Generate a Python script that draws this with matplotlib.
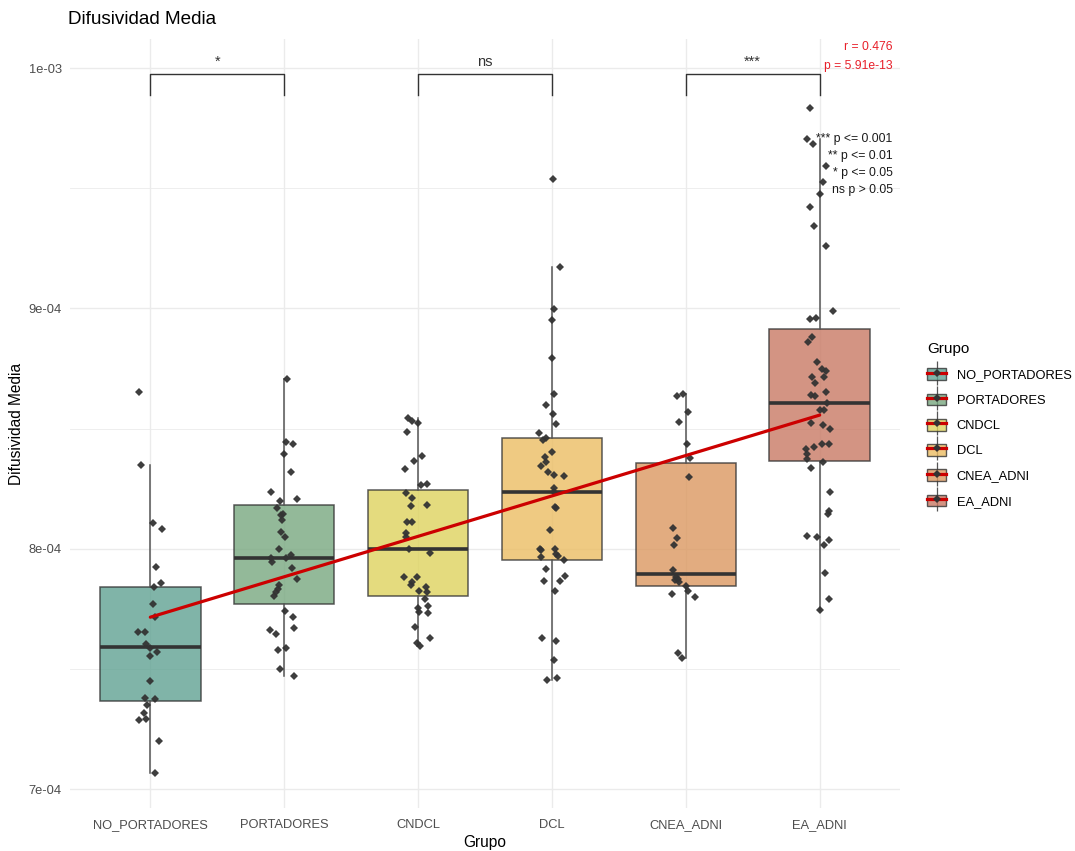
import numpy as np
import matplotlib
matplotlib.use("Agg")
import matplotlib.pyplot as plt
import matplotlib.patches as mpatches
from matplotlib.lines import Line2D
from matplotlib.legend_handler import HandlerPatch, HandlerTuple
from matplotlib.ticker import FuncFormatter

plt.rcParams['font.family'] = ['Liberation Sans', 'DejaVu Sans']

# grupos y colores
grupos = ['NO_PORTADORES', 'PORTADORES', 'CNDCL', 'DCL', 'CNEA_ADNI', 'EA_ADNI']
colores = ['#60a292', '#78a880', '#ded35e', '#ebbd63', '#db9860', '#c87964']

# valores individuales (x 1e-4) y desplazamiento horizontal del jitter (px)
no_port_vals = [8.653, 8.348, 8.108, 8.083, 7.923, 7.856, 7.839, 7.770, 7.715, 7.653, 7.653, 7.603,
                7.587, 7.570, 7.553, 7.451, 7.380, 7.376, 7.351, 7.318, 7.293, 7.288, 7.198, 7.065]
no_port_dx = [-11, -9, 3, 12, 6, 11, 4, 3, 5, -12, -5, -4, 0, 7, 0, 0, -5, 5, -3, -6, -4, -11, 9, 5]

port_vals = [8.707, 8.444, 8.436, 8.394, 8.319, 8.236, 8.208, 8.200, 8.171, 8.146, 8.141, 8.121,
             8.071, 8.050, 8.000, 7.975, 7.963, 7.963, 7.946, 7.921, 7.875, 7.850, 7.834, 7.821,
             7.804, 7.741, 7.716, 7.670, 7.662, 7.645, 7.587, 7.578, 7.501, 7.471]
port_dx = [3, 2, 9, 0, 7, -13, 13, -4, -7, -1, -3, -2, -3, 1, -5, 7, -13, 2, -12, 8, 13, -5, -6,
           -8, -10, 1, 9, 10, -14, -8, 2, -6, -4, 10]

cndcl_vals = [8.544, 8.533, 8.523, 8.484, 8.384, 8.364, 8.331, 8.265, 8.268, 8.232, 8.211, 8.179,
              8.183, 8.112, 8.112, 8.064, 8.050, 8.000, 7.983, 7.881, 7.881, 7.861, 7.847, 7.825,
              7.840, 7.818, 7.792, 7.754, 7.761, 7.735, 7.731, 7.675, 7.628, 7.606, 7.595]
cndcl_dx = [-10, -6, 0, -11, 4, -4, -13, 3, 9, -12, -6, -7, 9, -11, -6, -12, -12, -9, 12, -14, -1,
            -6, -7, 1, 8, 9, 7, 0, 10, 1, 10, -3, 12, -1, 2]

dcl_vals = [9.539, 9.173, 8.996, 8.951, 8.794, 8.642, 8.600, 8.562, 8.517, 8.480, 8.451, 8.461,
            8.401, 8.380, 8.360, 8.344, 8.318, 8.305, 8.302, 8.251, 8.236, 8.172, 8.168, 8.079,
            8.000, 7.993, 7.997, 7.979, 7.970, 7.964, 7.954, 7.917, 7.888, 7.864, 7.867, 7.825,
            7.628, 7.616, 7.537, 7.454, 7.463]
dcl_dx = [1, 8, 2, 0, 0, 2, -6, 1, 4, -13, -9, -6, 0, -7, -6, -11, -4, 2, 12, 2, 2, 3, 4, -2,
          -12, -11, 3, 4, 6, -11, 12, -6, 13, 8, -8, 3, -10, 4, 2, -5, 5]

cnea_vals = [8.645, 8.635, 8.568, 8.526, 8.436, 8.377, 8.298, 8.087, 8.046, 8.017, 7.913, 7.883,
             7.876, 7.871, 7.862, 7.846, 7.825, 7.811, 7.798, 7.567, 7.546]
cnea_dx = [-3, -9, 2, -7, 1, 4, 3, -13, -9, -12, -13, -10, -8, -11, -7, 0, 2, -14, 9, -8, -4]

ea_vals = [9.835, 9.703, 9.686, 9.592, 9.527, 9.476, 9.421, 9.342, 9.259, 8.991, 8.956, 8.958,
           8.880, 8.860, 8.777, 8.746, 8.738, 8.715, 8.715, 8.689, 8.652, 8.639, 8.635, 8.607,
           8.576, 8.576, 8.523, 8.513, 8.499, 8.434, 8.434, 8.424, 8.413, 8.394, 8.375, 8.362,
           8.334, 8.238, 8.155, 8.146, 8.053, 8.047, 8.036, 8.014, 7.900, 7.792, 7.746]
ea_dx = [-10, -13, -7, 6, 3, 0, -10, -6, 6, 13, -10, -4, -8, -12, -3, 2, 6, -8, 4, -5, 6, -9, -5,
         7, 0, 4, -9, 3, 10, 2, 9, -6, -14, -13, -13, 3, -9, 10, 9, 8, -13, -3, 9, 4, 5, 9, 0]

valores = [no_port_vals, port_vals, cndcl_vals, dcl_vals, cnea_vals, ea_vals]
jitter = [no_port_dx, port_dx, cndcl_dx, dcl_dx, cnea_dx, ea_dx]

# estadisticos del boxplot (x 1e-4)
q1s = [7.365, 7.771, 7.804, 7.953, 7.846, 8.365]
medianas = [7.590, 7.963, 7.997, 8.236, 7.896, 8.607]
q3s = [7.841, 8.183, 8.246, 8.461, 8.355, 8.915]
bigote_inf = [7.065, 7.471, 7.595, 7.454, 7.546, 7.746]
bigote_sup = [8.348, 8.707, 8.544, 9.173, 8.645, 9.703]

# recta de regresion (extremos en el primer y ultimo grupo)
reg_ini, reg_fin = 7.715, 8.556

# comparaciones
comparaciones = [(0, 1), (2, 3), (4, 5)]
signif = ['*', 'ns', '***']
leyenda_p = ['*** p <= 0.001', '** p <= 0.01', '* p <= 0.05', 'ns p > 0.05']

E = 1e-4
px = 1 / 134.0  # un grupo = 134 px

fig = plt.figure(figsize=(10.75, 8.51), dpi=100)
ax = fig.add_axes([70 / 1075, 1 - 808 / 851, 830 / 1075, 769 / 851])

for s in ax.spines.values():
    s.set_visible(False)
ax.set_facecolor('white')

stats = []
for i in range(len(grupos)):
    stats.append(dict(med=medianas[i] * E, q1=q1s[i] * E, q3=q3s[i] * E,
                      whislo=bigote_inf[i] * E, whishi=bigote_sup[i] * E, fliers=[]))
bp = ax.bxp(stats, positions=range(len(grupos)), widths=0.75, patch_artist=True,
            showfliers=False, showcaps=False, manage_ticks=False,
            boxprops=dict(edgecolor='#555555', lw=1.1),
            whiskerprops=dict(color='#555555', lw=1.1),
            medianprops=dict(color='#333333', lw=2.6))
for patch, c in zip(bp['boxes'], colores):
    patch.set_facecolor(c)
    patch.set_alpha(0.8)
    patch.set_edgecolor((0.2, 0.2, 0.2, 0.8))

for i, (vals, dx) in enumerate(zip(valores, jitter)):
    xs = i + np.array(dx) * px
    ax.plot(xs, np.array(vals) * E, 'D', color='#333333', ms=4.4, mew=0,
            alpha=0.95, zorder=4)

ax.plot([0, 5], [reg_ini * E, reg_fin * E], color='#cc0000', lw=2.3, zorder=5,
        solid_capstyle='round')

# corchetes de significacion
for (a, b), lab in zip(comparaciones, signif):
    ax.plot([a, a, b, b], [9.888 * E, 9.975 * E, 9.975 * E, 9.888 * E],
            color='#333333', lw=1.0, zorder=3)
    ax.text((a + b) / 2, 9.995 * E, lab, ha='center', va='bottom', fontsize=10.5,
            color='#333333')

ax.text(5.545, 10.088 * E, 'r = 0.476', ha='right', va='center', fontsize=8.7, color='#e8202a')
ax.text(5.545, 10.009 * E, 'p = 5.91e-13', ha='right', va='center', fontsize=8.7,
        color='#e8202a')
for k, t in enumerate(leyenda_p):
    ax.text(5.545, (9.704 - 0.071 * k) * E, t, ha='right', va='center', fontsize=8.8,
            color='#1a1a1a', zorder=6)

ax.set_xlim(-0.6, 5.6)
ax.set_ylim(6.921 * E, 10.121 * E)
ax.set_yticks([7 * E, 8 * E, 9 * E, 10 * E])
ax.set_yticks([7.5 * E, 8.5 * E, 9.5 * E], minor=True)
ax.yaxis.set_major_formatter(FuncFormatter(lambda v, p: f"{v:.0e}"))
ax.set_xticks(range(len(grupos)))
ax.set_xticklabels(grupos)
ax.tick_params(axis='both', which='both', length=0, labelsize=9.3, labelcolor='#4d4d4d')
ax.tick_params(axis='y', pad=6)
ax.tick_params(axis='x', pad=8)
ax.grid(True, which='major', color='#ebebeb', lw=1.0)
ax.grid(True, which='minor', axis='y', color='#ebebeb', lw=0.6)
ax.set_axisbelow(True)

ax.set_xlabel('Grupo', fontsize=11.2, color='black', labelpad=3)
ax.set_ylabel('Difusividad Media', fontsize=11.2, color='black', labelpad=3)
fig.text(68 / 1075, 1 - 20 / 851, 'Difusividad Media', fontsize=13.6, ha='left', va='center')


def caja_clave(legend, orig_handle, xdescent, ydescent, width, height, fontsize):
    return mpatches.Rectangle((-xdescent, -ydescent + height * 0.1), width, height * 0.8)


handles = []
for c in colores:
    bigote = Line2D([], [], marker='|', ms=17, mew=0.9, color='#555555', ls='none')
    caja = mpatches.Rectangle((0, 0), 1, 1, facecolor=c, alpha=0.8,
                              edgecolor=(0.2, 0.2, 0.2, 0.8), lw=1.0)
    roja = Line2D([], [], color='#cc0000', lw=2.3)
    punto = Line2D([], [], marker='D', ms=3.8, mew=0, color='#333333', ls='none')
    handles.append((bigote, caja, roja, punto))

leg = fig.legend(handles, grupos, loc='upper left', bbox_to_anchor=(921 / 1075, 1 - 336 / 851),
                 frameon=False, title='Grupo', fontsize=9.3, title_fontsize=11,
                 handlelength=1.4, handleheight=1.4, labelspacing=0.8, handletextpad=0.85,
                 borderpad=0, alignment='left',
                 handler_map={tuple: HandlerTuple(ndivide=1, pad=0),
                              mpatches.Rectangle: HandlerPatch(patch_func=caja_clave)})

fig.savefig('out.png', dpi=100, facecolor='white')
